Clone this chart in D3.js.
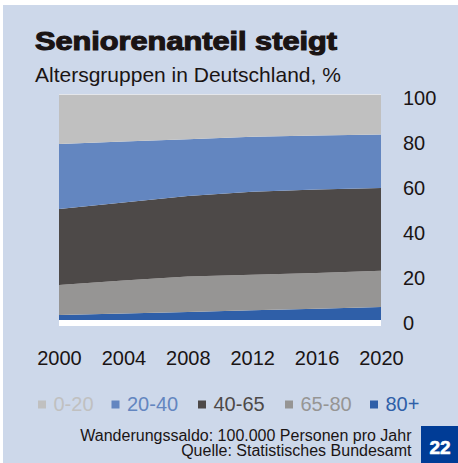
<!DOCTYPE html>
<html>
<head>
<meta charset="utf-8">
<script src="https://cdn.jsdelivr.net/npm/d3@7"></script>
<style>
  body { margin: 0; background: #fff; }
  svg { display: block; font-family: "Liberation Sans", Arial, sans-serif; }
</style>
</head>
<body>
<svg id="chart" width="458" height="463"></svg>
<script>
// data (shares in %)
var years = [2000, 2004, 2008, 2012, 2016, 2020];
var groups = ["0-20", "20-40", "40-65", "65-80", "80+"];
var share0to20  = [21.8, 20.7, 19.7, 18.6, 18.0, 17.5];
var share20to40 = [28.9, 27.1, 25.2, 24.4, 24.0, 23.8];
var share40to65 = [33.7, 34.6, 35.8, 36.9, 37.1, 36.8];
var share65to80 = [13.4, 14.7, 15.7, 15.8, 15.9, 16.1];
var share80plus = [2.2, 2.9, 3.6, 4.3, 5.0, 5.8];
var yTicks = [0, 20, 40, 60, 80, 100];
var xTicks = [2000, 2004, 2008, 2012, 2016, 2020];
var colors = ["#c0c0c0", "#6386c0", "#4d4948", "#969594", "#2f5fa8"];

var svg = d3.select("#chart");

svg.append("rect")
    .attr("x", 3).attr("y", 5)
    .attr("width", 455).attr("height", 458)
    .attr("fill", "#cdd8ea");

svg.append("text")
    .attr("x", 35).attr("y", 50)
    .attr("font-size", 25).attr("font-weight", "bold")
    .attr("fill", "#1a1414").attr("stroke", "#1a1414").attr("stroke-width", 1.1)
    .attr("textLength", 302).attr("lengthAdjust", "spacingAndGlyphs")
    .text("Seniorenanteil steigt");

svg.append("text")
    .attr("x", 35).attr("y", 82)
    .attr("font-size", 21).attr("fill", "#1a1414")
    .text("Altersgruppen in Deutschland, %");

var rows = years.map(function(yr, i){
    return {year: yr, "0-20": share0to20[i], "20-40": share20to40[i],
            "40-65": share40to65[i], "65-80": share65to80[i], "80+": share80plus[i]};
});

// 80+ at the bottom, 0-20 on top
var stack = d3.stack().keys(groups.slice().reverse());
var layers = stack(rows);

var x = d3.scaleLinear().domain([2000, 2020]).range([59, 381]);
var y = d3.scaleLinear().domain([0, 100]).range([320, 95]);
var color = d3.scaleOrdinal().domain(groups).range(colors);

var plot = svg.append("g");

plot.append("rect")
    .attr("x", x(2000)).attr("y", 94)
    .attr("width", x(2020) - x(2000)).attr("height", 232)
    .attr("fill", "#ffffff");
plot.append("rect")
    .attr("x", x(2000)).attr("y", 94)
    .attr("width", x(2020) - x(2000)).attr("height", 1.5)
    .attr("fill", "#e4e6ea");

var area = d3.area()
    .x(function(d){ return x(d.data.year); })
    .y0(function(d){ return y(d[0]); })
    .y1(function(d){ return y(d[1]); });

plot.selectAll("path.layer")
    .data(layers)
    .enter().append("path")
    .attr("class", "layer")
    .attr("d", area)
    .attr("fill", function(d){ return color(d.key); });

// y axis labels on the right
var yAxis = svg.append("g")
    .attr("transform", "translate(403,3)")
    .call(d3.axisRight(y).tickValues(yTicks).tickSize(0).tickPadding(0));
yAxis.select(".domain").remove();
yAxis.selectAll("text")
    .attr("font-size", 20).attr("fill", "#1a1414")
    .attr("font-family", "Liberation Sans, Arial, sans-serif");

// x axis labels
var xAxis = svg.append("g")
    .attr("transform", "translate(0,351)")
    .call(d3.axisBottom(x).tickValues(xTicks).tickFormat(d3.format("d")).tickSize(0).tickPadding(0));
xAxis.select(".domain").remove();
xAxis.selectAll("text")
    .attr("font-size", 20).attr("fill", "#1a1414")
    .attr("font-family", "Liberation Sans, Arial, sans-serif");

// legend
var legendX = [38, 111.5, 198, 285, 370];
var legend = svg.selectAll("g.leg")
    .data(groups)
    .enter().append("g")
    .attr("class", "leg")
    .attr("transform", function(d, i){ return "translate(" + legendX[i] + ",0)"; });
legend.append("rect")
    .attr("x", 0).attr("y", 400.5)
    .attr("width", 8).attr("height", 8)
    .attr("fill", function(d){ return color(d); });
legend.append("text")
    .attr("x", 15.5).attr("y", 410.7)
    .attr("font-size", 20)
    .attr("fill", function(d){ return color(d); })
    .text(function(d){ return d; });

// footer
svg.append("text")
    .attr("x", 411.5).attr("y", 440.5)
    .attr("text-anchor", "end").attr("font-size", 16).attr("fill", "#1a1414")
    .text("Wanderungssaldo: 100.000 Personen pro Jahr");
svg.append("text")
    .attr("x", 411.5).attr("y", 455.5)
    .attr("text-anchor", "end").attr("font-size", 16).attr("fill", "#1a1414")
    .text("Quelle: Statistisches Bundesamt");

svg.append("rect")
    .attr("x", 421).attr("y", 426)
    .attr("width", 37).attr("height", 37)
    .attr("fill", "#003c96");
svg.append("text")
    .attr("x", 440).attr("y", 454)
    .attr("text-anchor", "middle").attr("font-size", 19).attr("font-weight", "bold")
    .attr("fill", "#ffffff").attr("stroke", "#ffffff").attr("stroke-width", 0.6)
    .text("22");
</script>
</body>
</html>
